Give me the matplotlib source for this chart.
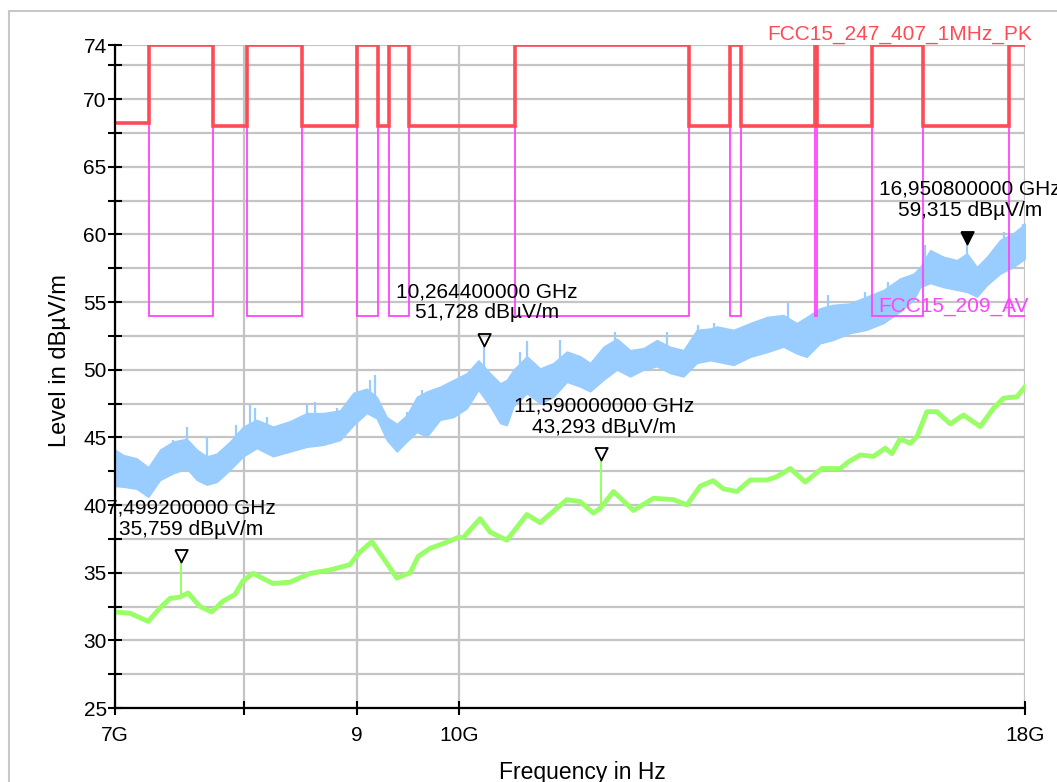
import matplotlib
matplotlib.use('Agg')
import matplotlib.pyplot as plt
import numpy as np
from matplotlib.patches import Rectangle
from matplotlib.ticker import NullLocator

plt.rcParams['font.family'] = ['Liberation Sans', 'DejaVu Sans']

# ---------------- data (GHz, dBuV/m) ----------------
band_edges_ghz = [7.0, 7.25, 7.75, 8.025, 8.5, 9.0, 9.2, 9.3, 9.5, 10.6, 12.7,
                  13.25, 13.4, 14.47, 14.5, 15.35, 16.2, 17.7, 18.0]
pk_limit = [68.2, 74, 68, 74, 68, 74, 68, 74, 68, 74, 68, 74, 68, 74, 68, 74, 68, 74]
av_limit = [68.2, 54, 68, 54, 68, 54, 68, 54, 68, 54, 68, 54, 68, 54, 68, 54, 68, 54]

pk_freq_ghz = [7.0, 7.061, 7.159, 7.246, 7.335, 7.437, 7.541, 7.62, 7.699, 7.779,
               7.888, 7.997, 8.109, 8.248, 8.394, 8.541, 8.69, 8.842, 8.965, 9.09,
               9.185, 9.281, 9.378, 9.476, 9.575, 9.675, 9.809, 9.946, 10.085, 10.207,
               10.332, 10.44, 10.512, 10.585, 10.733, 10.882, 11.034, 11.188, 11.344, 11.462,
               11.621, 11.784, 11.948, 12.114, 12.284, 12.455, 12.628, 12.805, 12.983, 13.074,
               13.301, 13.533, 13.77, 14.007, 14.203, 14.35, 14.55, 14.749, 15.007, 15.27,
               15.541, 15.813, 16.033, 16.145, 16.313, 16.54, 16.772, 16.947, 17.123, 17.302,
               17.543, 17.786, 18.0]
pk_upper = [44.1, 43.7, 43.45, 42.8, 44.1, 44.7, 44.9, 44.1, 43.6, 43.8,
            44.7, 45.8, 46.3, 45.8, 46.2, 46.8, 46.8, 47.0, 48.3, 48.6,
            48.0, 46.5, 46.0, 46.65, 48.0, 48.4, 48.75, 49.25, 49.75, 50.7,
            49.75, 49.0, 49.25, 50.0, 51.0, 50.1, 50.5, 51.35, 51.0, 50.5,
            51.7, 52.3, 51.45, 51.6, 52.2, 51.7, 51.45, 52.95, 53.05, 53.2,
            52.95, 53.45, 53.9, 54.05, 53.45, 53.9, 54.55, 54.8, 54.9, 55.4,
            55.9, 56.75, 57.1, 57.6, 58.85, 58.35, 58.1, 58.6, 57.6, 58.35,
            59.6, 60.1, 60.8]
pk_lower = [41.4, 41.35, 41.2, 40.6, 41.85, 42.35, 42.7, 41.85, 41.5, 41.7,
            42.6, 43.6, 44.2, 43.6, 43.95, 44.3, 44.45, 44.8, 45.9, 46.8,
            46.4, 44.8, 43.95, 44.7, 45.4, 45.05, 46.3, 46.5, 47.15, 48.5,
            47.3, 46.05, 45.9, 47.3, 48.25, 47.5, 48.0, 49.1, 48.75, 48.4,
            49.25, 50.0, 49.5, 50.0, 50.25, 49.75, 49.5, 50.5, 50.7, 50.6,
            50.35, 50.95, 51.3, 51.7, 51.2, 50.95, 51.95, 52.2, 52.7, 52.95,
            53.45, 54.3, 55.15, 56.1, 56.4, 56.1, 55.9, 55.75, 55.4, 56.25,
            57.1, 57.6, 58.2]
# isolated peaks sticking out of the peak trace
pk_spike_ghz = [7.272, 7.437, 7.546, 7.699, 7.937, 8.053, 8.095, 8.194, 8.541, 8.615,
                8.812, 8.904, 9.122, 9.169, 9.476, 9.557, 9.624, 10.656, 10.733, 11.107,
                11.764, 12.408, 12.826, 13.028, 14.08, 14.673, 15.242, 15.622, 16.225,
                17.603, 17.966]
pk_spike_level = [42.96, 44.8, 45.8, 45.05, 45.9, 47.4, 47.15, 46.5, 47.5, 47.65,
                  47.15, 47.65, 49.25, 49.6, 46.9, 47.5, 48.5, 51.3, 52.1, 52.2,
                  52.8, 52.8, 53.3, 53.45, 54.9, 55.5, 55.75, 56.5, 59.2,
                  60.2, 60.8]

av_freq_ghz = [7.0, 7.11, 7.246, 7.335, 7.411, 7.489, 7.551, 7.646, 7.739, 7.83,
               7.929, 7.995, 8.078, 8.247, 8.394, 8.571, 8.75, 8.934, 9.009, 9.138,
               9.281, 9.378, 9.509, 9.588, 9.708, 9.86, 9.994, 10.049, 10.225, 10.332,
               10.512, 10.733, 10.882, 11.188, 11.344, 11.501, 11.59, 11.743, 11.989, 12.241,
               12.498, 12.673, 12.849, 13.023, 13.159, 13.348, 13.533, 13.77, 13.913, 14.107,
               14.328, 14.579, 14.858, 14.987, 15.17, 15.381, 15.568, 15.677, 15.813, 15.978,
               16.089, 16.257, 16.427, 16.655, 16.887, 17.182, 17.421, 17.603, 17.849, 18.0]
av_level = [32.1, 32.0, 31.4, 32.4, 33.1, 33.2, 33.5, 32.5, 32.1, 32.9,
            33.4, 34.4, 34.95, 34.2, 34.3, 34.95, 35.2, 35.6, 36.4, 37.3,
            35.7, 34.6, 35.0, 36.2, 36.8, 37.2, 37.6, 37.6, 39.0, 38.0,
            37.4, 39.3, 38.7, 40.4, 40.25, 39.4, 39.8, 41.0, 39.6, 40.5,
            40.4, 40.0, 41.4, 41.8, 41.2, 41.0, 41.85, 41.85, 42.1, 42.7,
            41.7, 42.7, 42.7, 43.2, 43.7, 43.6, 44.2, 43.8, 44.9, 44.55,
            45.05, 46.9, 46.9, 46.0, 46.65, 45.8, 47.15, 47.9, 48.0, 48.75]

marker_freq_ghz = [7.4992, 10.2644, 11.59, 16.9508]
marker_level = [35.759, 51.728, 43.293, 59.315]
marker_trace = ['av', 'pk', 'av', 'pk']
marker_filled = [False, False, False, True]
marker_text_dx = [10, 3, 3, 3]   # px
x_ticks_ghz = [7, 8, 9, 10, 18]
x_tick_labels = ['7G', '', '9', '10G', '18G']
y_major = [25, 30, 35, 40, 45, 50, 55, 60, 65, 70, 74]
y_minor = [27.5, 32.5, 37.5, 42.5, 47.5, 52.5, 57.5, 62.5, 67.5, 72.5]

# ---------------- colours ----------------
C_PK = '#ff4b55'
C_AV = '#ff44ff'
C_BLUE = '#99ccff'
C_GREEN = '#99ff66'
C_GRID = '#c4c4c4'

G = 1e9
W, H = 1057, 782
fig = plt.figure(figsize=(W / 100, H / 100), dpi=100)
ax = fig.add_axes([115 / W, 1 - 708 / H, 910 / W, 663 / H])
ax.set_xscale('log')
ax.set_xlim(7 * G, 18 * G)
ax.set_ylim(25, 74)

# grid
ax.set_yticks(y_major)
ax.set_yticks(y_minor, minor=True)
ax.set_xticks([v * G for v in x_ticks_ghz])
ax.set_xticklabels(x_tick_labels)
ax.xaxis.set_minor_locator(NullLocator())
ax.grid(True, which='both', axis='y', color=C_GRID, lw=1.6, zorder=0)
ax.grid(True, which='major', axis='x', color=C_GRID, lw=1.6, zorder=0)
ax.set_axisbelow(True)

for s in ['top', 'right']:
    ax.spines[s].set_visible(False)
for s in ['left', 'bottom']:
    ax.spines[s].set_color('black')
    ax.spines[s].set_linewidth(1.6)
    ax.spines[s].set_zorder(6)

ax.tick_params(which='both', direction='inout', length=10, width=1.5, color='black',
               labelsize=15)
ax.tick_params(axis='y', pad=1)
ax.tick_params(axis='x', pad=8)

# traces
pf = np.array(pk_freq_ghz) * G
ax.fill_between(pf, pk_lower, pk_upper, color=C_BLUE, lw=1.0, ec=C_BLUE, zorder=2)
sf = np.array(pk_spike_ghz) * G
ax.vlines(sf, np.interp(pk_spike_ghz, pk_freq_ghz, pk_lower), pk_spike_level,
          color=C_BLUE, lw=1.6, zorder=2)
af = np.array(av_freq_ghz) * G
ax.plot(af, av_level, color=C_GREEN, lw=3.5, zorder=3, solid_joinstyle='round')

# limit lines
edges = np.array(band_edges_ghz) * G
ax.stairs(av_limit, edges, color=C_AV, lw=1.3, zorder=4, baseline=None)
ax.stairs(pk_limit, edges, color=C_PK, lw=2.6, zorder=5, baseline=None)

# markers
tri = [(-0.5, 1.0), (0.5, 1.0), (0.0, 0.0), (-0.5, 1.0)]
for f, v, tr, filled, dx in zip(marker_freq_ghz, marker_level, marker_trace,
                                 marker_filled, marker_text_dx):
    fx = f * G
    if tr == 'av':
        base = np.interp(f, av_freq_ghz, av_level)
        col = C_GREEN
    else:
        base = np.interp(f, pk_freq_ghz, pk_upper)
        col = C_BLUE
    ax.plot([fx, fx], [base, v], color=col, lw=1.5, zorder=3)
    ax.plot([fx], [v], marker=tri, ms=18, mec='black', mew=1.3,
            mfc='black' if filled else 'none', ls='none', zorder=7)
    ax.annotate('%s GHz\n%s dBµV/m' % (('%.9f' % f).replace('.', ','),
                                      ('%.3f' % v).replace('.', ',')),
                xy=(fx, v), xytext=(dx * 0.72, 44 * 0.72), textcoords='offset points',
                ha='center', va='center', multialignment='center', fontsize=15,
                linespacing=1.15, color='black', zorder=8, annotation_clip=False)

# limit labels
fig.text(767 / W, 1 - 35 / H, 'FCC15_247_407_1MHz_PK', color=C_PK, fontsize=15,
         ha='left', va='center')
fig.text(878 / W, 1 - 307 / H, 'FCC15_209_AV', color=C_AV, fontsize=15,
         ha='left', va='center', zorder=10)

# axis labels
ax.set_xlabel('Frequency in Hz', fontsize=16.5)
ax.set_ylabel('Level in dBµV/m', fontsize=17)
ax.xaxis.label.set_va('center')
ax.yaxis.label.set_va('center')
ax.yaxis.label.set_rotation_mode('anchor')
ax.xaxis.set_label_coords((582 - 115) / 910, (708 - 772) / 663)
ax.yaxis.set_label_coords((60 - 115) / 910, (708 - 361) / 663)

# outer frame
fig.add_artist(Rectangle((9 / W, -0.1), 1.2, 1.1 - 11 / H, transform=fig.transFigure,
                         fill=False, ec='#c8c8c8', lw=1.5))

fig.savefig('out.png', dpi=100)
